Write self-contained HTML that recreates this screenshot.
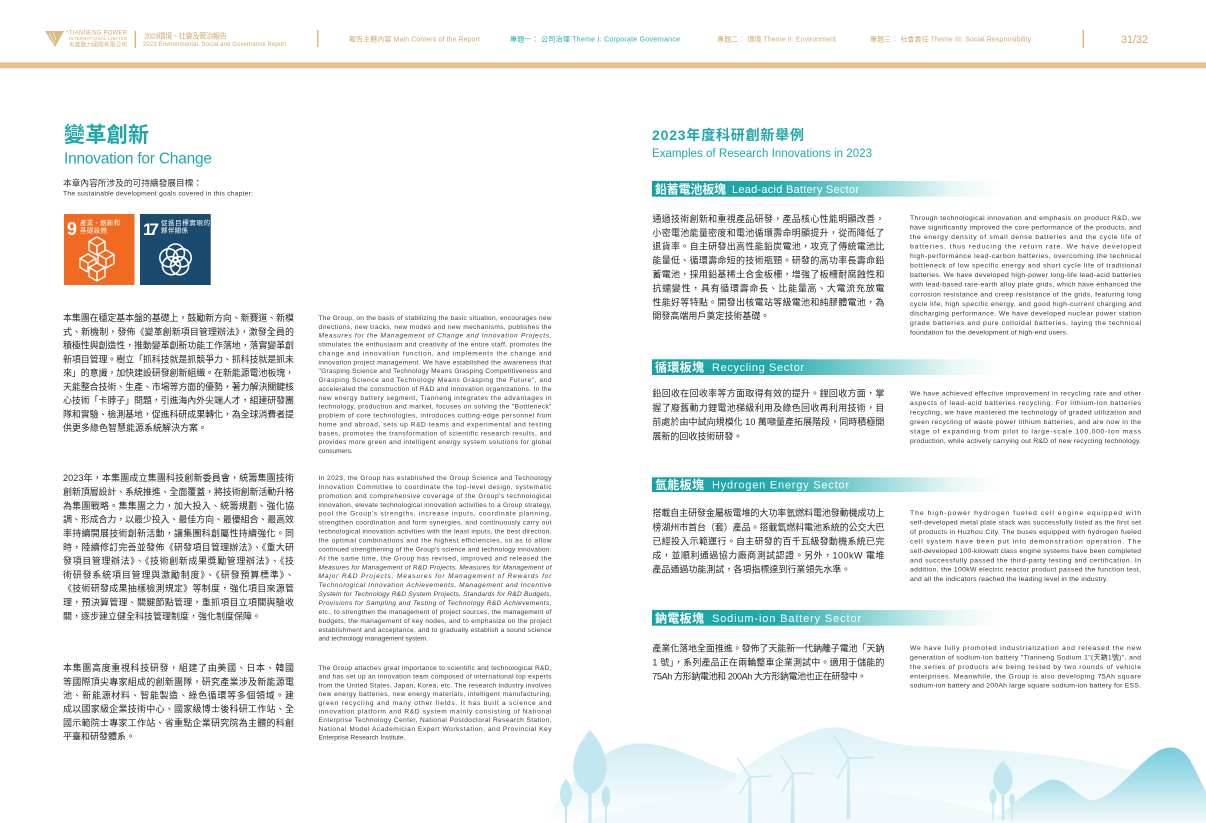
<!DOCTYPE html>
<html><head><meta charset="utf-8"><style>
html,body{margin:0;padding:0;background:#fff;width:1206px;height:823px;overflow:hidden}
svg{display:block}
.zh{font-family:"Liberation Sans","Noto Sans CJK TC",sans-serif;font-size:9px;fill:#231f20}
.en{font-family:"Liberation Sans","Noto Sans CJK TC",sans-serif;font-size:6.6px;fill:#3a3a3a}
.er{font-family:"Liberation Sans","Noto Sans CJK TC",sans-serif;font-size:6.8px;fill:#333}
.it{font-style:italic}
.hd{font-family:"Liberation Sans","Noto Sans CJK TC",sans-serif;fill:#d3a86c}
.tq{fill:#22b0b3}
.tl{font-family:"Liberation Sans","Noto Sans CJK TC",sans-serif;fill:#1fa8aa}
.bz{font-family:"Liberation Sans","Noto Sans CJK TC",sans-serif;fill:#fff;font-size:12px;font-weight:bold}
.be{font-family:"Liberation Sans",sans-serif;fill:#fff;font-size:11px}
.sd{font-family:"Liberation Sans","Noto Sans CJK TC",sans-serif;fill:#fff}
</style></head><body>
<svg width="1206" height="823" viewBox="0 0 1206 823" xmlns="http://www.w3.org/2000/svg">
<defs>
<linearGradient id="bg" x1="0" y1="0" x2="1" y2="0">
<stop offset="0" stop-color="#14a1a3"/><stop offset="0.35" stop-color="#22aaac"/><stop offset="0.6" stop-color="#86d2d2"/><stop offset="0.85" stop-color="#e6f6f6"/><stop offset="1" stop-color="#ffffff"/>
</linearGradient>
<linearGradient id="h1" x1="0" y1="0" x2="0" y2="1"><stop offset="0" stop-color="#d0edf4"/><stop offset="1" stop-color="#ffffff"/></linearGradient>
<linearGradient id="h2" x1="0" y1="0" x2="0" y2="1"><stop offset="0" stop-color="#dcf2f7"/><stop offset="1" stop-color="#ffffff"/></linearGradient>
<linearGradient id="h3" x1="0" y1="0" x2="0" y2="1"><stop offset="0" stop-color="#74cbdd"/><stop offset="1" stop-color="#f2fafc"/></linearGradient>
</defs>

<!-- HEADER -->
<polygon points="45,31 64,31 55,47" fill="#dcb882"/>
<line x1="49" y1="33" x2="55" y2="44" stroke="#fff" stroke-width="0.6"/>
<line x1="53" y1="32" x2="56" y2="40" stroke="#fff" stroke-width="0.6"/>
<circle cx="67" cy="31.5" r="0.9" fill="#dcb882"/>
<text class="hd" x="69" y="34.5" style="font-size:6px" textLength="58">TIANNENG POWER</text>
<text class="hd" x="69" y="39.8" style="font-size:4.2px" textLength="58">INTERNATIONAL LIMITED</text>
<text class="hd" x="69" y="46.3" style="font-size:5.6px" textLength="58">天能動力國際有限公司</text>
<rect x="134.5" y="31" width="1.5" height="17" fill="#dcb882"/>
<text class="hd" x="144" y="38.7" style="font-size:7.5px" textLength="83">2023環境、社會及管治報告</text>
<text class="hd" x="143" y="46.2" style="font-size:6px" textLength="143">2023 Environmental, Social and Governance Report</text>
<rect x="317" y="30" width="1.5" height="17" fill="#dcb882"/>
<text class="hd" x="349" y="41.4" style="font-size:7px" textLength="131">報告主體內容 Main Content of the Report</text>
<text class="hd tq" x="510" y="41.4" style="font-size:7px" textLength="170">專題一： 公司治理 Theme I: Corporate Governance</text>
<text class="hd" x="717" y="41.4" style="font-size:7px" textLength="119">專題二： 環境 Theme II: Environment</text>
<text class="hd" x="870" y="41.4" style="font-size:7px" textLength="161">專題三： 社會責任 Theme III: Social Responsibility</text>
<rect x="1082.5" y="30" width="1.5" height="18" fill="#dcb882"/>
<text class="hd" x="1121" y="42.8" style="font-size:11px" textLength="27">31/32</text>
<rect x="0" y="62.3" width="1206" height="6" fill="#e7c18d"/>

<!-- LEFT TITLE -->
<text class="tl" x="64" y="142" style="font-size:21px;font-weight:bold" textLength="85">變革創新</text>
<text class="tl" x="64" y="163.3" style="font-size:15.5px" textLength="148">Innovation for Change</text>
<text class="zh" x="63" y="186" style="font-size:8.7px;fill:#333" textLength="139">本章內容所涉及的可持續發展目標：</text>
<text class="en" x="63" y="195.6" style="font-size:6.8px;fill:#333" textLength="190">The sustainable development goals covered in this chapter:</text>

<!-- SDG 9 -->
<rect x="64" y="214" width="70.5" height="71" fill="#f06a22"/>
<text class="sd" x="67" y="235" style="font-size:18px;font-weight:bold">9</text>
<text class="sd" x="80" y="225" style="font-size:6.5px" textLength="40">產業、創新和</text>
<text class="sd" x="80" y="232.5" style="font-size:6.5px" textLength="27">基礎設施</text>
<g stroke="#fff" stroke-width="1.4" fill="#f06a22" stroke-linejoin="round">
<path d="M97 237 L105 241.5 L97 246 L89 241.5 Z M89 241.5 L89 250.5 L97 255 L97 246 M97 255 L105 250.5 L105 241.5"/>
<path d="M106 250 L114 254.5 L106 259 L98 254.5 Z M98 254.5 L98 263.5 L106 268 L106 259 M106 268 L114 263.5 L114 254.5"/>
<path d="M88 254 L96 258.5 L88 263 L80 258.5 Z M80 258.5 L80 267.5 L88 272 L88 263 M88 272 L96 267.5 L96 258.5"/>
<path d="M97 263 L105 267.5 L97 272 L89 267.5 Z M89 267.5 L89 276.5 L97 281 L97 272 M97 281 L105 276.5 L105 267.5"/>
</g>
<!-- SDG 17 -->
<rect x="140" y="214" width="70.7" height="71" fill="#1a4a6d"/>
<text class="sd" x="143" y="235" style="font-size:17px;font-weight:bold" textLength="16">17</text>
<text class="sd" x="161" y="225" style="font-size:6.5px" textLength="49">促進目標實現的</text>
<text class="sd" x="161" y="232.5" style="font-size:6.5px" textLength="27">夥伴關係</text>
<g stroke="#fff" stroke-width="1.6" fill="none">
<circle cx="175.5" cy="253" r="9"/>
<circle cx="182.2" cy="257.8" r="9"/>
<circle cx="179.6" cy="265.7" r="9"/>
<circle cx="171.4" cy="265.7" r="9"/>
<circle cx="168.8" cy="257.8" r="9"/>
</g>

<!-- LEFT CHINESE BLOCK 1 -->
<text class="zh" x="63" y="321.1" textLength="231">本集團在穩定基本盤的基礎上，鼓勵新方向、新賽道、新模</text>
<text class="zh" x="63" y="334.9" textLength="231">式、新機制，發佈《變革創新項目管理辦法》，激發全員的</text>
<text class="zh" x="63" y="348.6" textLength="231">積極性與創造性，推動變革創新功能工作落地，落實變革創</text>
<text class="zh" x="63" y="362.4" textLength="231">新項目管理。樹立「抓科技就是抓競爭力、抓科技就是抓未</text>
<text class="zh" x="63" y="376.1" textLength="231">來」的意識，加快建設研發創新組織。在新能源電池板塊，</text>
<text class="zh" x="63" y="389.9" textLength="231">天能整合技術、生產、市場等方面的優勢，著力解決關鍵核</text>
<text class="zh" x="63" y="403.6" textLength="231">心技術「卡脖子」問題，引進海內外尖端人才，組建研發團</text>
<text class="zh" x="63" y="417.4" textLength="231">隊和實驗、檢測基地，促進科研成果轉化，為全球消費者提</text>
<text class="zh" x="63" y="431.1">供更多綠色智慧能源系統解決方案。</text>

<!-- LEFT ENGLISH BLOCK 1 -->
<text class="en" x="318.5" y="320.0" textLength="233">The Group, on the basis of stabilizing the basic situation, encourages new</text>
<text class="en" x="318.5" y="328.9" textLength="233">directions, new tracks, new modes and new mechanisms, publishes the</text>
<text class="en" x="318.5" y="337.7" textLength="233"><tspan class="it">Measures for the Management of Change and Innovation Projects</tspan>,</text>
<text class="en" x="318.5" y="346.6" textLength="233">stimulates the enthusiasm and creativity of the entire staff, promotes the</text>
<text class="en" x="318.5" y="355.5" textLength="233">change and innovation function, and implements the change and</text>
<text class="en" x="318.5" y="364.4" textLength="233">innovation project management. We have established the awareness that</text>
<text class="en" x="318.5" y="373.2" textLength="233">"Grasping Science and Technology Means Grasping Competitiveness and</text>
<text class="en" x="318.5" y="382.1" textLength="233">Grasping Science and Technology Means Grasping the Future", and</text>
<text class="en" x="318.5" y="391.0" textLength="233">accelerated the construction of R&amp;D and innovation organizations. In the</text>
<text class="en" x="318.5" y="399.8" textLength="233">new energy battery segment, Tianneng integrates the advantages in</text>
<text class="en" x="318.5" y="408.7" textLength="233">technology, production and market, focuses on solving the "Bottleneck"</text>
<text class="en" x="318.5" y="417.6" textLength="233">problem of core technologies, introduces cutting-edge personnel from</text>
<text class="en" x="318.5" y="426.4" textLength="233">home and abroad, sets up R&amp;D teams and experimental and testing</text>
<text class="en" x="318.5" y="435.3" textLength="233">bases, promotes the transformation of scientific research results, and</text>
<text class="en" x="318.5" y="444.2" textLength="233">provides more green and intelligent energy system solutions for global</text>
<text class="en" x="318.5" y="453.1">consumers.</text>

<!-- LEFT CHINESE BLOCK 2 -->
<text class="zh" x="63" y="481.1" textLength="231">2023年，本集團成立集團科技創新委員會，統籌集團技術</text>
<text class="zh" x="63" y="494.9" textLength="231">創新頂層設計、系統推進、全面覆蓋，將技術創新活動升格</text>
<text class="zh" x="63" y="508.8" textLength="231">為集團戰略。集集團之力，加大投入、統籌規劃、強化協</text>
<text class="zh" x="63" y="522.6" textLength="231">調、形成合力，以最少投入、最佳方向、最優組合、最高效</text>
<text class="zh" x="63" y="536.4" textLength="231">率持續開展技術創新活動，讓集團科創屬性持續強化。同</text>
<text class="zh" x="63" y="550.3" textLength="231">時，陸續修訂完善並發佈《研發項目管理辦法》、《重大研</text>
<text class="zh" x="63" y="564.1" textLength="231">發項目管理辦法》、《技術創新成果獎勵管理辦法》、《技</text>
<text class="zh" x="63" y="577.9" textLength="231">術研發系統項目管理與激勵制度》、《研發預算標準》、</text>
<text class="zh" x="63" y="591.7" textLength="231">《技術研發成果抽樣檢測規定》等制度，強化項目來源管</text>
<text class="zh" x="63" y="605.6" textLength="231">理，預決算管理、關鍵節點管理，重抓項目立項關與驗收</text>
<text class="zh" x="63" y="619.4">關，逐步建立健全科技管理制度，強化制度保障。</text>

<!-- LEFT ENGLISH BLOCK 2 -->
<text class="en" x="318.5" y="480.0" textLength="233">In 2023, the Group has established the Group Science and Technology</text>
<text class="en" x="318.5" y="488.9" textLength="233">Innovation Committee to coordinate the top-level design, systematic</text>
<text class="en" x="318.5" y="497.9" textLength="233">promotion and comprehensive coverage of the Group's technological</text>
<text class="en" x="318.5" y="506.8" textLength="233">innovation, elevate technological innovation activities to a Group strategy,</text>
<text class="en" x="318.5" y="515.7" textLength="233">pool the Group's strengths, increase inputs, coordinate planning,</text>
<text class="en" x="318.5" y="524.7" textLength="233">strengthen coordination and form synergies, and continuously carry out</text>
<text class="en" x="318.5" y="533.6" textLength="233">technological innovation activities with the least inputs, the best direction,</text>
<text class="en" x="318.5" y="542.5" textLength="233">the optimal combinations and the highest efficiencies, so as to allow</text>
<text class="en" x="318.5" y="551.4" textLength="233">continued strengthening of the Group's science and technology innovation.</text>
<text class="en" x="318.5" y="560.4" textLength="233">At the same time, the Group has revised, improved and released the</text>
<text class="en it" x="318.5" y="569.3" textLength="233">Measures for Management of R&amp;D Projects, Measures for Management of</text>
<text class="en it" x="318.5" y="578.2" textLength="233">Major R&amp;D Projects, Measures for Management of Rewards for</text>
<text class="en it" x="318.5" y="587.2" textLength="233">Technological Innovation Achievements, Management and Incentive</text>
<text class="en it" x="318.5" y="596.1" textLength="233">System for Technology R&amp;D System Projects, Standards for R&amp;D Budgets,</text>
<text class="en it" x="318.5" y="605.0" textLength="233">Provisions for Sampling and Testing of Technology R&amp;D Achievements,</text>
<text class="en" x="318.5" y="613.9" textLength="233">etc., to strengthen the management of project sources, the management of</text>
<text class="en" x="318.5" y="622.9" textLength="233">budgets, the management of key nodes, and to emphasize on the project</text>
<text class="en" x="318.5" y="631.8" textLength="233">establishment and acceptance, and to gradually establish a sound science</text>
<text class="en" x="318.5" y="640.7">and technology management system.</text>

<!-- LEFT CHINESE BLOCK 3 -->
<text class="zh" x="63" y="671.1" textLength="231">本集團高度重視科技研發，組建了由美國、日本、韓國</text>
<text class="zh" x="63" y="684.8" textLength="231">等國際頂尖專家組成的創新團隊，研究產業涉及新能源電</text>
<text class="zh" x="63" y="698.4" textLength="231">池、新能源材料、智能製造、綠色循環等多個領域。建</text>
<text class="zh" x="63" y="712.1" textLength="231">成以國家級企業技術中心、國家級博士後科研工作站、全</text>
<text class="zh" x="63" y="725.8" textLength="231">國示範院士專家工作站、省重點企業研究院為主體的科創</text>
<text class="zh" x="63" y="739.4">平臺和研發體系。</text>

<!-- LEFT ENGLISH BLOCK 3 -->
<text class="en" x="318.5" y="670.0" textLength="233">The Group attaches great importance to scientific and technological R&amp;D,</text>
<text class="en" x="318.5" y="678.7" textLength="233">and has set up an innovation team composed of international top experts</text>
<text class="en" x="318.5" y="687.4" textLength="233">from the United States, Japan, Korea, etc. The research industry involves</text>
<text class="en" x="318.5" y="696.1" textLength="233">new energy batteries, new energy materials, intelligent manufacturing,</text>
<text class="en" x="318.5" y="704.8" textLength="233">green recycling and many other fields. It has built a science and</text>
<text class="en" x="318.5" y="713.5" textLength="233">innovation platform and R&amp;D system mainly consisting of National</text>
<text class="en" x="318.5" y="722.2" textLength="233">Enterprise Technology Center, National Postdoctoral Research Station,</text>
<text class="en" x="318.5" y="730.9" textLength="233">National Model Academician Expert Workstation, and Provincial Key</text>
<text class="en" x="318.5" y="739.6">Enterprise Research Institute.</text>

<!-- BOTTOM LANDSCAPE -->
<path d="M545 823 C560 790 600 748 632 744 C668 740 700 762 740 775 L760 823 Z" fill="url(#h1)"/>
<path d="M700 823 C730 770 770 748 800 736 C815 729 835 724 850 730 C875 740 895 745 920 746 C980 749 1030 752 1070 758 C1120 766 1170 780 1206 790 L1206 823 Z" fill="url(#h2)"/>
<path d="M580 823 C640 800 720 788 820 790 C900 792 960 800 1020 823 Z" fill="#eef8fb" opacity="0.8"/>
<path d="M990 823 C1010 808 1030 786 1050 780 C1066 777 1076 796 1090 800 C1110 803 1140 760 1160 750 C1172 745 1182 747 1190 760 C1198 775 1203 785 1206 793 L1206 823 Z" fill="url(#h3)"/>
<!-- left trees -->
<g fill="#c3e7f0">
<path d="M590 730 C612 755 613 782 590 795 C567 782 568 755 590 730 Z"/>
<rect x="588.5" y="780" width="3" height="43"/>
<path d="M566 779 C574 788 574 801 566 808 C558 801 558 788 566 779 Z"/>
<rect x="565" y="800" width="2" height="23"/>
<path d="M606 785 C612 792 612 802 606 808 C600 802 600 792 606 785 Z"/>
<rect x="605.2" y="800" width="1.6" height="23"/>
</g>
<!-- right trees -->
<g fill="#c3e7f0">
<path d="M1003 761 C1016 772 1016 788 1003 796 C990 788 990 772 1003 761 Z"/>
<rect x="1001.8" y="785" width="2.4" height="35"/>
<path d="M993 788 C998 793 998 800 993 805 C988 800 988 793 993 788 Z"/>
<rect x="992.3" y="800" width="1.4" height="20"/>
<path d="M1012 793 C1016 797 1016 802 1012 806 C1008 802 1008 797 1012 793 Z"/>
<rect x="1011.4" y="802" width="1.2" height="18"/>
</g>
<!-- turbines -->
<g fill="#c9eaf2" stroke="#c9eaf2" stroke-linecap="round">
<path d="M749 777 L751 777 L752 823 L748 823 Z" stroke="none"/>
<line x1="750" y1="777" x2="737.7" y2="758.3" stroke-width="1.6"/>
<line x1="750" y1="777" x2="770.7" y2="776" stroke-width="1.6"/>
<line x1="750" y1="777" x2="739.7" y2="793.3" stroke-width="1.6"/>
<path d="M791.6 773 L793.6 773 L794.6 823 L790.6 823 Z" stroke="none"/>
<line x1="792.6" y1="773.3" x2="781" y2="755" stroke-width="1.6"/>
<line x1="792.6" y1="773.3" x2="813" y2="773.3" stroke-width="1.6"/>
<line x1="792.6" y1="773.3" x2="782" y2="791.7" stroke-width="1.6"/>
<path d="M847.4 758 L849.4 758 L850.2 819 L846.6 819 Z" stroke="none"/>
<line x1="848.4" y1="758.3" x2="834.8" y2="736.7" stroke-width="1.7"/>
<line x1="848.4" y1="758.3" x2="874" y2="757.3" stroke-width="1.7"/>
<line x1="848.4" y1="758.3" x2="837.7" y2="778.3" stroke-width="1.7"/>
</g>

<!-- RIGHT TITLE -->
<text class="tl" x="652" y="139.8" style="font-size:14px;font-weight:bold" textLength="152">2023年度科研創新舉例</text>
<text class="tl" x="652" y="156.8" style="font-size:11.5px" textLength="220">Examples of Research Innovations in 2023</text>

<!-- LEAD-ACID -->
<rect x="652" y="181" width="350" height="15.7" fill="url(#bg)"/>
<text class="bz" x="655" y="193.3" textLength="71">鉛蓄電池板塊</text>
<text class="be" x="732" y="192.8" textLength="127">Lead-acid Battery Sector</text>

<text class="zh" x="652.4" y="221.9" textLength="232">通過技術創新和重視產品研發，產品核心性能明顯改善，</text>
<text class="zh" x="652.4" y="235.8" textLength="232">小密電池能量密度和電池循環壽命明顯提升，從而降低了</text>
<text class="zh" x="652.4" y="249.7" textLength="232">退貨率。自主研發出高性能鉛炭電池，攻克了傳統電池比</text>
<text class="zh" x="652.4" y="263.6" textLength="232">能量低、循環壽命短的技術瓶頸。研發的高功率長壽命鉛</text>
<text class="zh" x="652.4" y="277.5" textLength="232">蓄電池，採用鉛基稀土合金板柵，增強了板柵耐腐蝕性和</text>
<text class="zh" x="652.4" y="291.4" textLength="232">抗蠕變性，具有循環壽命長、比能量高、大電流充放電</text>
<text class="zh" x="652.4" y="305.3" textLength="232">性能好等特點。開發出核電站等級電池和純膠體電池，為</text>
<text class="zh" x="652.4" y="319.2">開發高端用戶奠定技術基礎。</text>

<text class="er" x="910" y="220.1" textLength="231">Through technological innovation and emphasis on product R&amp;D, we</text>
<text class="er" x="910" y="229.6" textLength="231">have significantly improved the core performance of the products, and</text>
<text class="er" x="910" y="239.1" textLength="231">the energy density of small dense batteries and the cycle life of</text>
<text class="er" x="910" y="248.7" textLength="231">batteries, thus reducing the return rate. We have developed</text>
<text class="er" x="910" y="258.2" textLength="231">high-performance lead-carbon batteries, overcoming the technical</text>
<text class="er" x="910" y="267.7" textLength="231">bottleneck of low specific energy and short cycle life of traditional</text>
<text class="er" x="910" y="277.2" textLength="231">batteries. We have developed high-power long-life lead-acid batteries</text>
<text class="er" x="910" y="286.7" textLength="231">with lead-based rare-earth alloy plate grids, which have enhanced the</text>
<text class="er" x="910" y="296.3" textLength="231">corrosion resistance and creep resistance of the grids, featuring long</text>
<text class="er" x="910" y="305.8" textLength="231">cycle life, high specific energy, and good high-current charging and</text>
<text class="er" x="910" y="315.3" textLength="231">discharging performance. We have developed nuclear power station</text>
<text class="er" x="910" y="324.8" textLength="231">grade batteries and pure colloidal batteries, laying the technical</text>
<text class="er" x="910" y="334.3" textLength="158">foundation for the development of high-end users.</text>

<!-- RECYCLING -->
<rect x="652" y="359.3" width="350" height="15.7" fill="url(#bg)"/>
<text class="bz" x="655" y="371.6" textLength="49">循環板塊</text>
<text class="be" x="712" y="371.1" textLength="92">Recycling Sector</text>

<text class="zh" x="652.4" y="396.7" textLength="232">鉛回收在回收率等方面取得有效的提升。鋰回收方面，掌</text>
<text class="zh" x="652.4" y="410.9" textLength="232">握了廢舊動力鋰電池梯級利用及綠色回收再利用技術，目</text>
<text class="zh" x="652.4" y="425.1" textLength="232">前處於由中試向規模化 10 萬噸量產拓展階段，同時積極開</text>
<text class="zh" x="652.4" y="439.3">展新的回收技術研發。</text>

<text class="er" x="910" y="395.7" textLength="231">We have achieved effective improvement in recycling rate and other</text>
<text class="er" x="910" y="405.2" textLength="231">aspects of lead-acid batteries recycling. For lithium-ion batteries</text>
<text class="er" x="910" y="414.7" textLength="231">recycling, we have mastered the technology of graded utilization and</text>
<text class="er" x="910" y="424.1" textLength="231">green recycling of waste power lithium batteries, and are now in the</text>
<text class="er" x="910" y="433.6" textLength="231">stage of expanding from pilot to large-scale 100,000-ton mass</text>
<text class="er" x="910" y="443.1" textLength="231">production, while actively carrying out R&amp;D of new recycling technology.</text>

<!-- HYDROGEN -->
<rect x="652" y="477.3" width="350" height="14.7" fill="url(#bg)"/>
<text class="bz" x="655" y="489.2" textLength="49">氫能板塊</text>
<text class="be" x="712" y="488.7" textLength="137">Hydrogen Energy Sector</text>

<text class="zh" x="652.4" y="516.1" textLength="232">搭載自主研發金屬板電堆的大功率氫燃料電池發動機成功上</text>
<text class="zh" x="652.4" y="530.3" textLength="232">榜湖州市首台（套）產品。搭載氫燃料電池系統的公交大巴</text>
<text class="zh" x="652.4" y="544.4" textLength="232">已經投入示範運行。自主研發的百千瓦級發動機系統已完</text>
<text class="zh" x="652.4" y="558.6" textLength="232">成，並順利通過協力廠商測試認證。另外，100kW 電堆</text>
<text class="zh" x="652.4" y="572.7">產品通過功能測試，各項指標達到行業領先水準。</text>

<text class="er" x="910" y="515.1" textLength="231">The high-power hydrogen fueled cell engine equipped with</text>
<text class="er" x="910" y="524.5" textLength="231">self-developed metal plate stack was successfully listed as the first set</text>
<text class="er" x="910" y="534.0" textLength="231">of products in Huzhou City. The buses equipped with hydrogen fueled</text>
<text class="er" x="910" y="543.4" textLength="231">cell system have been put into demonstration operation. The</text>
<text class="er" x="910" y="552.8" textLength="231">self-developed 100-kilowatt class engine systems have been completed</text>
<text class="er" x="910" y="562.3" textLength="231">and successfully passed the third-party testing and certification. In</text>
<text class="er" x="910" y="571.7" textLength="231">addition, the 100kW electric reactor product passed the function test,</text>
<text class="er" x="910" y="581.1" textLength="198">and all the indicators reached the leading level in the industry.</text>

<!-- SODIUM -->
<rect x="652" y="610" width="350" height="15.7" fill="url(#bg)"/>
<text class="bz" x="655" y="622.3" textLength="49">鈉電板塊</text>
<text class="be" x="712" y="621.8" textLength="149">Sodium-ion Battery Sector</text>

<text class="zh" x="652.4" y="651.7" textLength="232">產業化落地全面推進。發佈了天能新一代鈉離子電池「天鈉</text>
<text class="zh" x="652.4" y="665.5" textLength="232">1 號」，系列產品正在兩輪整車企業測試中。適用于儲能的</text>
<text class="zh" x="652.4" y="679.4" textLength="214">75Ah 方形鈉電池和 200Ah 大方形鈉電池也正在研發中。</text>

<text class="er" x="910" y="650.1" textLength="231">We have fully promoted industrialization and released the new</text>
<text class="er" x="910" y="659.5" textLength="231">generation of sodium-ion battery "Tianneng Sodium 1"(天鈉1號)", and</text>
<text class="er" x="910" y="668.9" textLength="231">the series of products are being tested by two rounds of vehicle</text>
<text class="er" x="910" y="678.3" textLength="231">enterprises. Meanwhile, the Group is also developing 75Ah square</text>
<text class="er" x="910" y="687.7" textLength="231">sodium-ion battery and 200Ah large square sodium-ion battery for ESS.</text>
</svg>
</body></html>
